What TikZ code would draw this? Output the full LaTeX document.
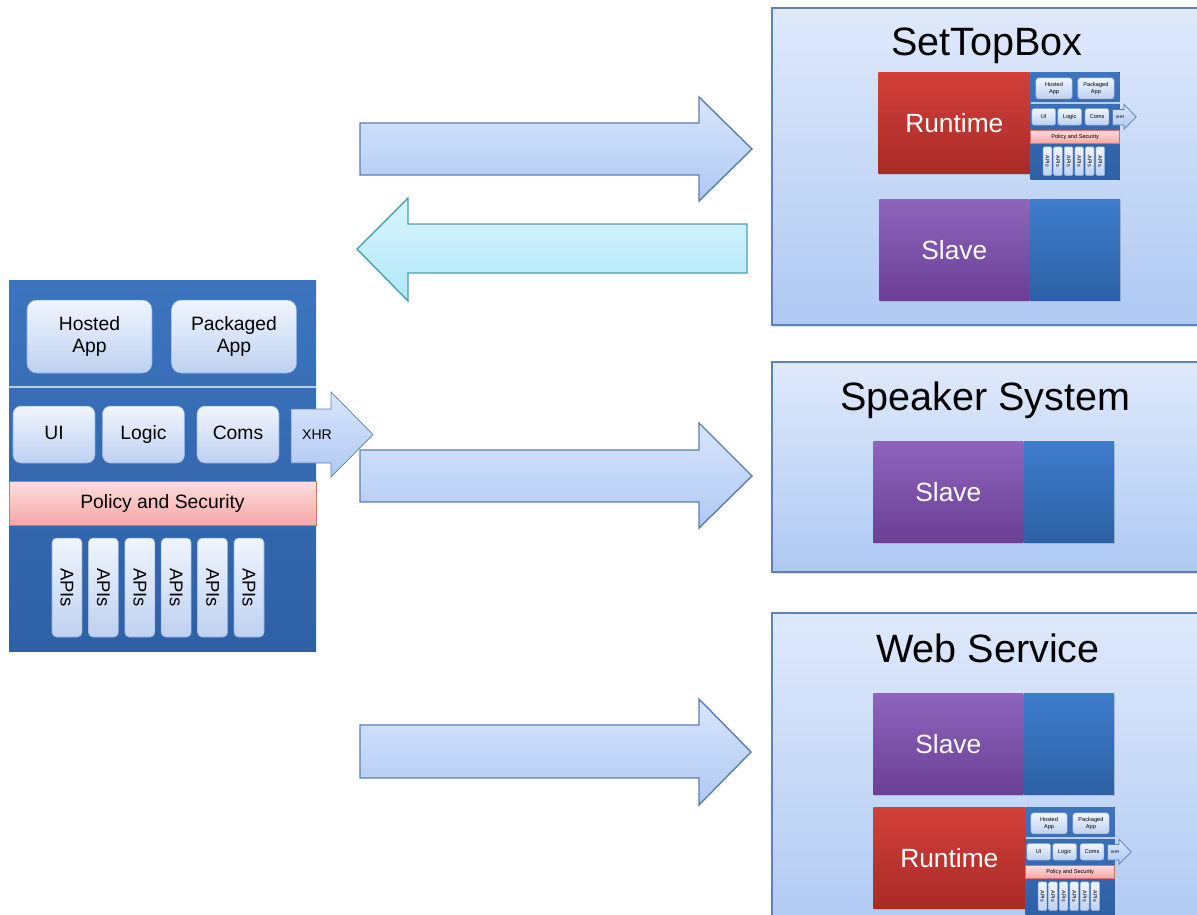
\documentclass[tikz,border=0pt]{standalone}
\usepackage{fontspec}
\setmainfont{Liberation Sans}
\usepackage{tikz}
\usetikzlibrary{positioning, shadows}

\definecolor{panelTop}{HTML}{DFE9FB}
\definecolor{panelBot}{HTML}{AFC9F2}
\definecolor{panelEdge}{HTML}{5E82B8}
\definecolor{arrTop}{HTML}{D8E6FC}
\definecolor{arrBot}{HTML}{AFC8F2}
\definecolor{arrEdge}{HTML}{5B7DB3}
\definecolor{backTop}{HTML}{D8F5FD}
\definecolor{backBot}{HTML}{B0E7F8}
\definecolor{backEdge}{HTML}{4A9FB4}
\definecolor{stackTop}{HTML}{3C74BE}
\definecolor{stackBot}{HTML}{2E60A4}
\definecolor{appTop}{HTML}{F0F5FD}
\definecolor{appBot}{HTML}{BED1F1}
\definecolor{appEdge}{HTML}{8FAEDC}
\definecolor{polTop}{HTML}{FDDEDE}
\definecolor{polBot}{HTML}{F4A7A6}
\definecolor{polEdge}{HTML}{D9726F}
\definecolor{runTop}{HTML}{D3403A}
\definecolor{runBot}{HTML}{A82A27}
\definecolor{slaveTop}{HTML}{8F64BC}
\definecolor{slaveBot}{HTML}{6A3F95}
\definecolor{slotTop}{HTML}{3E7CCC}
\definecolor{slotBot}{HTML}{2D61A4}

\tikzset{
  corner scale/.store in=\cornerscale, corner scale=1,
  panel/.style={draw=panelEdge, line width=0.8pt, top color=panelTop, bottom color=panelBot,
    drop shadow={shadow xshift=0.8pt, shadow yshift=-1pt, opacity=0.25}},
  paneltitle/.style={anchor=base, font=\fontsize{22.5}{26}\selectfont},
  fwdarrow/.style={draw=arrEdge, line width=0.8pt, top color=arrTop, bottom color=arrBot},
  backarrow/.style={draw=backEdge, line width=0.8pt, top color=backTop, bottom color=backBot},
  appbox/.style={draw=appEdge, line width=0.3pt, rounded corners=5.5pt*\cornerscale, top color=appTop,
    bottom color=appBot, inner sep=0pt, align=center, font=\fontsize{11}{13}\selectfont},
  modbox/.style={appbox, rounded corners=4.5pt*\cornerscale, minimum width=1.64cm, minimum height=1.14cm,
    text height=8pt, text depth=2.5pt},
  apibox/.style={appbox, rounded corners=2.5pt*\cornerscale, rotate=-90, minimum width=1.98cm,
    minimum height=0.6cm, font=\fontsize{10.5}{12}\selectfont},
  policybar/.style={draw=polEdge, line width=0.4pt, top color=polTop, bottom color=polBot,
    minimum width=6.14cm, minimum height=0.88cm, inner sep=0pt, font=\fontsize{11}{13}\selectfont},
  xhrarrow/.style={draw=arrEdge, line width=0.4pt, top color=arrTop, bottom color=arrBot},
  bigbox/.style={anchor=north west, inner sep=0pt, minimum height=2.02cm, text=white,
    font=\fontsize{15}{18}\selectfont,
    drop shadow={shadow xshift=0.6pt, shadow yshift=-0.9pt, opacity=0.3}},
  runtimebox/.style={bigbox, minimum width=3.04cm, top color=runTop, bottom color=runBot},
  slavebox/.style={bigbox, minimum width=3cm, top color=slaveTop, bottom color=slaveBot},
  slotbox/.style={bigbox, anchor=west, minimum width=1.8cm, top color=slotTop, bottom color=slotBot},
  ministack/.style={scale=0.29, transform shape, corner scale=0.29},
  % the web app stack, origin at its top left corner
  appstack/.pic={
    \fill[top color=stackTop, bottom color=stackBot] (0,0) rectangle (307,-371);
    \draw[appTop!70!stackTop, line width=0.8pt] (0,-107) -- (307,-107);
    \node[appbox, minimum width=2.5cm, minimum height=1.46cm] (-hosted) at (80.5,-56.5) {Hosted\\App};
    \node[appbox, minimum width=2.5cm, minimum height=1.46cm] (-packaged) at (225,-56.5) {Packaged\\App};
    \node[modbox] (-ui) at (45,-154.5) {UI};
    \node[modbox] (-logic) at (134.5,-154.5) {Logic};
    \node[modbox] (-coms) at (229,-154.5) {Coms};
    \draw[xhrarrow] (282,-129) -- (322,-129) -- (322,-112) -- (364,-154.5) -- (322,-197)
      -- (322,-183) -- (282,-183) -- cycle;
    \node[font=\fontsize{8}{10}\selectfont] (-xhr) at (308,-155) {XHR};
    \node[policybar] (-policy) at (153.5,-223) {Policy and Security};
    \foreach \i in {0,...,5}
      \node[apibox] (-api\i) at ({58+36.4*\i},-307.5) {APIs};
  }
}

\begin{document}
\begin{tikzpicture}[x=0.02cm, y=0.02cm]
  \useasboundingbox (0,0) rectangle (1197,-914);
  \clip (0,0) rectangle (1197,-914);

  \pic (web) at (9,-280) {appstack};

  % arrows between the app and the devices
  \draw[fwdarrow] (360,-123) -- (699,-123) -- (699,-97) -- (752,-149) -- (699,-201) -- (699,-175) -- (360,-175) -- cycle;
  \draw[backarrow] (747,-224) -- (408,-224) -- (408,-198) -- (357,-249) -- (408,-301) -- (408,-273) -- (747,-273) -- cycle;
  \draw[fwdarrow] (360,-450) -- (699,-450) -- (699,-423) -- (752,-476) -- (699,-528) -- (699,-502) -- (360,-502) -- cycle;
  \draw[fwdarrow] (360,-725) -- (699,-725) -- (699,-699) -- (751,-752) -- (699,-805) -- (699,-778) -- (360,-778) -- cycle;

  % SetTopBox
  \draw[panel] (772,-8) rectangle (1215,-325);
  \node[paneltitle] (stbtitle) at (987,-55) {SetTopBox};
  \node[runtimebox] (stbrun) at (878,-72) {Runtime};
  \pic[ministack] (stbstack) at (stbrun.north east) {appstack};
  \node[slavebox] (stbslave) at (879,-199) {Slave};
  \node[slotbox, right=0pt of stbslave] (stbslot) {};

  % Speaker System
  \draw[panel] (772,-362) rectangle (1215,-572);
  \node[paneltitle] (spktitle) at (985,-410) {Speaker System};
  \node[slavebox] (spkslave) at (873,-441) {Slave};
  \node[slotbox, right=0pt of spkslave] (spkslot) {};

  % Web Service
  \draw[panel] (772,-613) rectangle (1215,-940);
  \node[paneltitle] (wstitle) at (988,-662) {Web Service};
  \node[slavebox] (wsslave) at (873,-693) {Slave};
  \node[slotbox, right=0pt of wsslave] (wsslot) {};
  \node[runtimebox] (wsrun) at (873,-807) {Runtime};
  \pic[ministack] (wsstack) at (wsrun.north east) {appstack};
\end{tikzpicture}
\end{document}
